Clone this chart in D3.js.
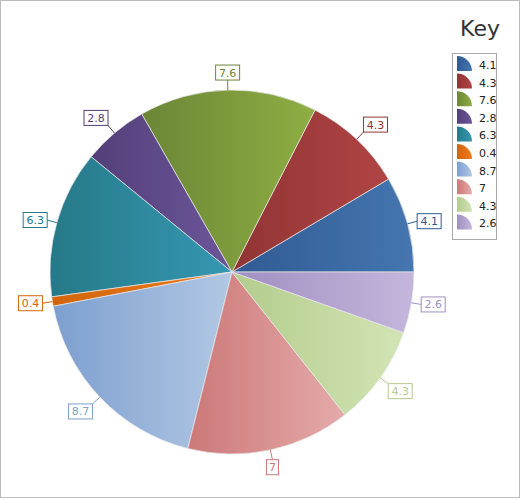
<!DOCTYPE html><html><head><meta charset="utf-8"><script src="https://cdn.jsdelivr.net/npm/d3@7"></script>
<style>body{margin:0;background:#fff}text{font-family:Tahoma,"DejaVu Sans",sans-serif}</style></head><body><svg id="c" width="521" height="499"></svg><script>
const labels=["4.1","4.3","7.6","2.8","6.3","0.4","8.7","7","4.3","2.6"];
const values=[4.1,4.3,7.6,2.8,6.3,0.4,8.7,7,4.3,2.6];
const dark=["#305a92","#913434","#6b8636","#533f78","#267988","#d2650c","#7d9fcf","#cc7878","#b3cc8c","#a08fc0"];
const light=["#4576b0","#b04444","#8fae44","#6c569a","#3598b2","#ee7a1a","#b2c8e4","#e5aaaa","#d2e4b4","#c4b6dc"];
const svg=d3.select("#c");
svg.append("rect").attr("x",0.5).attr("y",0.5).attr("width",519).attr("height",497).attr("fill","#fff").attr("stroke","#bbb");
const defs=svg.append("defs");
values.forEach((v,i)=>{const g=defs.append("linearGradient").attr("id","g"+i).attr("x1",0).attr("x2",1).attr("y1",0).attr("y2",0);
g.append("stop").attr("offset",0).attr("stop-color",dark[i]);g.append("stop").attr("offset",1).attr("stop-color",light[i]);});
const cx=232,cy=272,R=182;
const total=d3.sum(values);
const pie=d3.pie().sort(null).startAngle(Math.PI/2).endAngle(Math.PI/2-2*Math.PI)(values);
const arc=d3.arc().innerRadius(0).outerRadius(R);
const G=svg.append("g").attr("transform",`translate(${cx},${cy})`);
G.selectAll("path").data(pie).join("path").attr("d",arc).attr("fill",(d,i)=>`url(#g${i})`).attr("stroke","#e8e8e8").attr("stroke-width",0.7);
pie.forEach((d,i)=>{const a=(d.startAngle+d.endAngle)/2;const sx=Math.sin(a),sy=-Math.cos(a);
 const p1=[sx*R,sy*R],p2=[sx*(R+10),sy*(R+10)];
 const t=labels[i];const w=t.length*6+6,h=15;
 let bx=p2[0]+(sx>=0?0:-w)*(Math.abs(sx)>0.3?1:0)-(Math.abs(sx)<=0.3?w/2:0);
 let by=p2[1]+(sy<0?-h:0)*(Math.abs(sy)>0.3?1:0)-(Math.abs(sy)<=0.3?h/2:0);
 G.append("line").attr("x1",p1[0]).attr("y1",p1[1]).attr("x2",p2[0]).attr("y2",p2[1]).attr("stroke",dark[i]);
 G.append("rect").attr("x",bx).attr("y",by).attr("width",w).attr("height",h).attr("fill","#fff").attr("stroke",dark[i]);
 G.append("text").attr("x",bx+w/2).attr("y",by+11.5).attr("text-anchor","middle").attr("font-size",11).attr("fill",dark[i]).text(t);
});
svg.append("text").attr("x",480).attr("y",36).attr("text-anchor","middle").attr("font-size",22).attr("fill","#333").text("Key");
svg.append("rect").attr("x",452.5).attr("y",53.5).attr("width",44).attr("height",186).attr("fill","#fff").attr("stroke","#aaa");
const qa=d3.arc().innerRadius(0).outerRadius(15).startAngle(0).endAngle(Math.PI/2);
labels.forEach((t,i)=>{const y=65+i*17.6;
 svg.append("path").attr("d",qa()).attr("transform",`translate(457,${y+6})`).attr("fill",`url(#g${i})`);
 svg.append("text").attr("x",479).attr("y",y+4).attr("font-size",11).attr("fill","#222").text(t);});
</script></body></html>
